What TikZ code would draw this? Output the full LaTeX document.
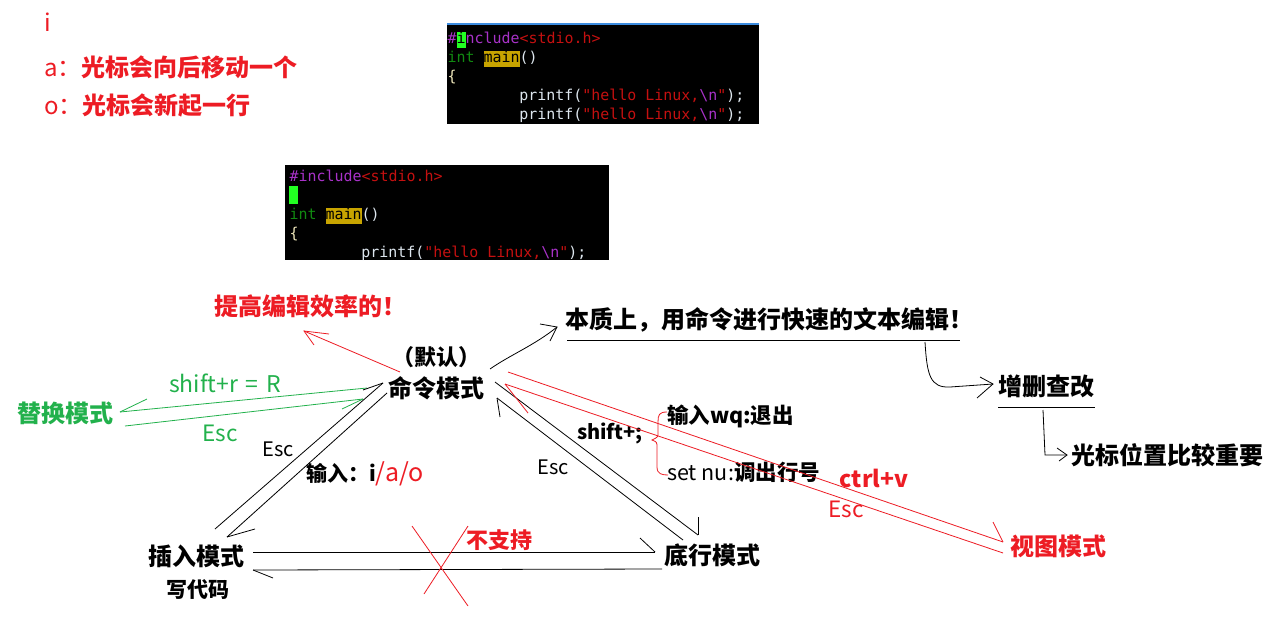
\documentclass[tikz,border=0pt]{standalone}
\usepackage{fontspec}
\usepackage{xcolor}
\setmainfont{Noto Sans CJK SC}
\newfontfamily\codefont{DejaVu Sans Mono}
\definecolor{myred}{HTML}{ED1C24}
\definecolor{mygreen}{HTML}{22B14C}
\definecolor{pp}{HTML}{A832C8}
\definecolor{cr}{HTML}{C41010}
\definecolor{cg}{HTML}{118A11}
\definecolor{cw}{HTML}{DDE6EE}
\definecolor{cy}{HTML}{ECE4B8}
\definecolor{hlmain}{HTML}{C8A400}
\definecolor{curs}{HTML}{22FF22}
\definecolor{bluebar}{HTML}{3C8CE0}
\newcommand\hlc[2]{{\setlength{\fboxsep}{0pt}\colorbox{#1}{\rule[-4.7pt]{0pt}{16pt}#2}}}
\tikzset{
  big/.style={inner sep=0pt, font=\fontsize{24}{28}\selectfont\bfseries},
  mid/.style={inner sep=0pt, font=\fontsize{23}{27}\selectfont},
  midb/.style={inner sep=0pt, font=\fontsize{21}{25}\selectfont\bfseries},
  esc/.style={inner sep=0pt, font=\fontsize{20}{24}\selectfont},
  code/.style={inner sep=0pt, anchor=base west, font=\fontsize{14.95}{19}\selectfont\codefont},
  ln/.style={line width=0.8pt, draw=black},
  rln/.style={line width=0.8pt, draw=myred},
  gln/.style={line width=0.8pt, draw=mygreen},
}
\begin{document}
\begin{tikzpicture}[x=1pt,y=-1pt]
\useasboundingbox (0,0) rectangle (1273,621);
\fill[white] (0,0) rectangle (1273,621);

% top-left notes
\node[mid, font=\fontsize{24}{28}\selectfont, anchor=west, text=myred] (ni) at (44,22) {i};
\node[mid, font=\fontsize{24}{28}\selectfont, anchor=west, text=myred] (na) at (44,67) {a：\textbf{光标会向后移动一个}};
\node[mid, font=\fontsize{24}{28}\selectfont, anchor=west, text=myred] (no) at (44,105) {o：\textbf{光标会新起一行}};

% code box 1
\fill[black] (447,25) rectangle (759,124);
\draw[bluebar, line width=2pt] (447,23.5) -- (759,23.5);
\node[code] (a1) at (447.5,43) {\textcolor{pp}{\#}\hlc{curs}{\textcolor{black}{i}}\textcolor{pp}{nclude}\textcolor{cr}{<stdio.h>}};
\node[code] (a2) at (447.5,62) {\textcolor{cg}{int} \hlc{hlmain}{\textcolor{black}{main}}\textcolor{cw}{()}};
\node[code] (a3) at (447.5,81) {\textcolor{cy}{\{}};
\node[code] (a4) at (447.5,100) {\hspace*{71.76pt}\textcolor{cw}{printf(}\textcolor{cr}{"hello Linux,}\textcolor{pp}{\textbackslash n}\textcolor{cr}{"}\textcolor{cw}{);}};
\node[code] (a5) at (447.5,119) {\hspace*{71.76pt}\textcolor{cw}{printf(}\textcolor{cr}{"hello Linux,}\textcolor{pp}{\textbackslash n}\textcolor{cr}{"}\textcolor{cw}{);}};

% code box 2
\fill[black] (285,165) rectangle (609,260);
\node[code] (b1) at (289.5,181) {\textcolor{pp}{\#include}\textcolor{cr}{<stdio.h>}};
\fill[curs] (289.3,186) rectangle (297.5,204);
\node[code] (b3) at (289.5,219) {\textcolor{cg}{int} \hlc{hlmain}{\textcolor{black}{main}}\textcolor{cw}{()}};
\node[code] (b4) at (289.5,238) {\textcolor{cy}{\{}};
\node[code] (b5) at (289.5,257) {\hspace*{71.76pt}\textcolor{cw}{printf(}\textcolor{cr}{"hello Linux,}\textcolor{pp}{\textbackslash n}\textcolor{cr}{"}\textcolor{cw}{);}};

% main labels
\node[big, font=\fontsize{22}{26}\selectfont\bfseries] (def) at (436,357) {（默认）};
\node[big] (cmd) at (436,388) {命令模式};
\node[big, text=myred] (eff) at (310,306) {提高编辑效率的！};
\node[big, anchor=west] (ess) at (565,320) {本质上，用命令进行快速的文本编辑！};
\draw[ln] (567,340) -- (960,340);
\node[big, anchor=west] (crud) at (998,386) {增删查改};
\draw[ln] (998,407) -- (1095,407);
\node[big, anchor=west] (cur) at (1071,455) {光标位置比较重要};
\node[big, text=mygreen] (rep) at (65,413) {替换模式};
\node[mid, text=mygreen] (shr) at (225,383) {shift+r\,\,=\,\,R};
\node[mid, font=\fontsize{22.5}{26}\selectfont, text=mygreen] (escg) at (220,433) {Esc};
\node[esc] (esc1) at (278,449) {Esc};
\node[midb, anchor=west] (inp) at (306,474) {输入：i\textcolor{myred}{\mdseries\fontsize{25}{29}\selectfont/a/o}};
\node[esc] (esc2) at (553,467) {Esc};
\node[midb, font=\fontsize{20}{24}\selectfont\bfseries] (shs) at (610,433) {shift+;};
\node[midb, font=\fontsize{21.5}{25}\selectfont\bfseries, anchor=west] (wq) at (667,416) {输入wq:退出};
\node[inner sep=0pt, anchor=west, font=\fontsize{21.5}{25}\selectfont] (setnu) at (667,472) {set nu:\textbf{调出行号}};
\node[mid, font=\fontsize{23}{27}\selectfont\bfseries, text=myred] (ctrl) at (874,478) {ctrl+v};
\node[mid, font=\fontsize{22.5}{26}\selectfont, text=myred] (escr) at (846,509) {Esc};
\node[big] (ins) at (196,556) {插入模式};
\node[midb] (wcode) at (198,590) {写代码};
\node[big] (bot) at (712,555) {底行模式};
\node[big, text=myred] (view) at (1058,546) {视图模式};
\node[midb, font=\fontsize{22}{26}\selectfont\bfseries, text=myred] (nos) at (499,540) {不支持};

% connector end points
\coordinate (p1) at (490,369);  \coordinate (p2) at (557,327);
\coordinate (q1) at (400,372);  \coordinate (q2) at (304,331);
% cmd -> essence
\draw[ln] (p1) .. controls (510,355) and (535,345) .. (p2);
\draw[ln] (540,324) -- (p2) -- (550,341);
% cmd -> efficiency
\draw[rln] (q1) -- (q2);
\draw[rln] (329,334) -- (q2) -- (314,345);
% essence -> crud
\coordinate (r2) at (993,384);
\draw[ln] (925,342) .. controls (927,375) and (930,388) .. (950,387) -- (r2);
\draw[ln] (980,377) -- (r2) -- (977,398);
% crud -> cursor
\coordinate (s2) at (1067,455);
\draw[ln] (1043,410) -- (1045,455) -- (s2);
\draw[ln] (1057,448) -- (s2) -- (1059,461);
% green: cmd -> replace
\coordinate (g1) at (120,412);
\draw[gln] (367,388) -- (g1);
\draw[gln] (147,399) -- (g1);
% green: replace -> cmd
\coordinate (g2) at (363,399);
\draw[gln] (125,426) -- (g2);
\draw[gln] (342,409) -- (g2);
% insert -> cmd (Esc)
\coordinate (k1) at (383,383);
\draw[ln] (215,529) -- (k1);
\draw[ln] (363,390) -- (k1);
% cmd -> insert (i/a/o)
\coordinate (k2) at (227,537);
\draw[ln] (387,393) -- (k2);
\draw[ln] (255,529) -- (k2);
% cmd -> bottom
\coordinate (m1) at (698,535);
\draw[ln] (495,382) -- (m1);
\draw[ln] (698,517) -- (m1);
% bottom -> cmd (Esc)
\coordinate (m2) at (497,398);
\draw[ln] (683,540) -- (m2);
\draw[ln] (500,417) -- (m2);
% insert -> bottom
\coordinate (h1) at (655,552);
\draw[ln] (253,552) -- (h1);
\draw[ln] (640,538) -- (h1);
% bottom -> insert
\coordinate (h2) at (253,570);
\draw[ln] (662,569) -- (h2);
\draw[ln] (273,578) -- (h2);
% red cross
\draw[rln] (412,526) -- (468,606);
\draw[rln] (468,526) -- (424,594);
% cmd -> view
\coordinate (v1) at (1003,542);
\draw[rln] (508,372) -- (v1);
\draw[rln] (993,522) -- (v1);
% view -> cmd
\coordinate (v2) at (505,384);
\draw[rln] (1003,553) -- (v2);
\draw[rln] (528,413) -- (v2);
% brace
\draw[rln] (667,412) .. controls (659,412) and (658,415) .. (658,422) -- (658,433) .. controls (658,437) .. (652,440) .. controls (657,442) .. (657,448) -- (657,467) .. controls (657,474) and (662,475) .. (668,475);
\end{tikzpicture}
\end{document}
